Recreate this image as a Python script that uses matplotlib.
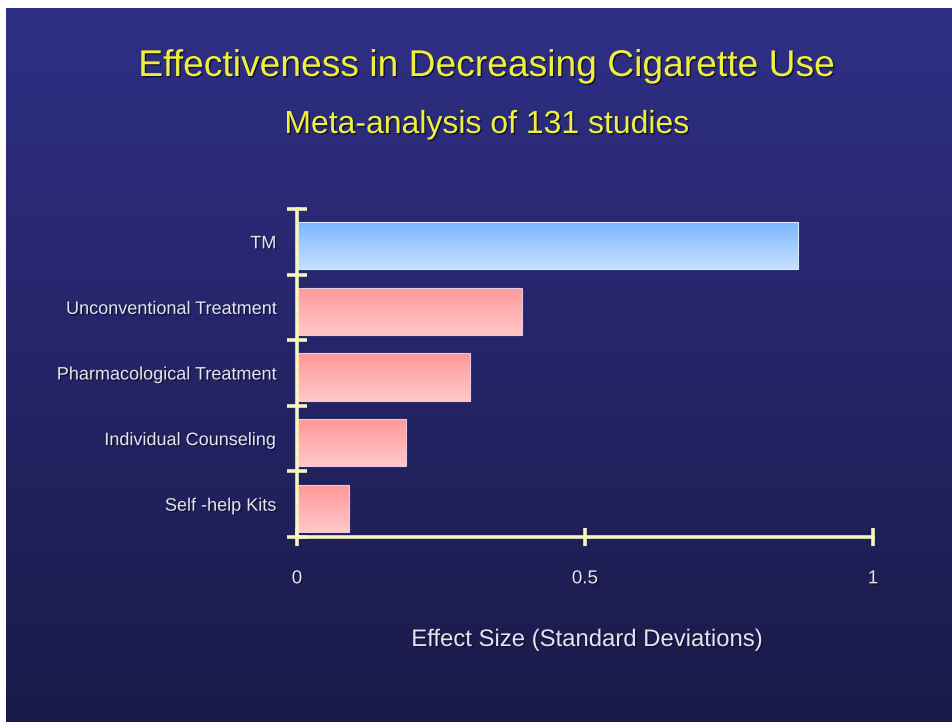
import matplotlib
matplotlib.use("Agg")
import matplotlib.pyplot as plt
import matplotlib.patheffects as pe
import numpy as np
from matplotlib.colors import LinearSegmentedColormap

plt.rcParams['font.family'] = ['Liberation Sans', 'DejaVu Sans']

# ---- data ----
categories = ["Self -help Kits", "Individual Counseling", "Pharmacological Treatment",
              "Unconventional Treatment", "TM"]
effect_sizes = [0.09, 0.19, 0.30, 0.39, 0.87]
highlight = [False, False, False, False, True]
x_ticks = [0, 0.5, 1]
x_tick_labels = ["0", "0.5", "1"]
title = "Effectiveness in Decreasing Cigarette Use"
subtitle = "Meta-analysis of 131 studies"
x_label = "Effect Size (Standard Deviations)"

W, H = 953, 722
fig = plt.figure(figsize=(W / 100, H / 100), dpi=100, facecolor="white")

# background gradient (slide)
bg = fig.add_axes([6 / W, 0, 1 - 6 / W, 1 - 8 / H], zorder=0)
bg_cmap = LinearSegmentedColormap.from_list("bg", ["#2F2F86", "#1A1A49"])
bg.imshow(np.linspace(0, 1, 256).reshape(-1, 1), aspect="auto", cmap=bg_cmap,
          extent=[0, 1, 0, 1], origin="upper")
bg.set_axis_off()

axis_col = "#F6F6BE"
label_col = "#E4E4EE"
title_col = "#EFEF3C"
shadow = [pe.withSimplePatchShadow(offset=(1, -1), shadow_rgbFace="#101030", alpha=0.9)]

ax = fig.add_axes([297 / W, (H - 537) / H, 576 / W, 328 / H], zorder=1)
ax.patch.set_alpha(0)

ypos = np.arange(len(categories)) - 0.06
bars = ax.barh(ypos, effect_sizes, height=0.72, facecolor="none", edgecolor="none")

red_cmap = LinearSegmentedColormap.from_list("red", ["#FF9797", "#FFC8C8"])
blue_cmap = LinearSegmentedColormap.from_list("blue", ["#7CB6FF", "#C4E0FF"])
grad = np.linspace(0, 1, 100).reshape(-1, 1)
for b, hl in zip(bars, highlight):
    x0, y0 = b.get_x(), b.get_y()
    w, h = b.get_width(), b.get_height()
    im = ax.imshow(grad, aspect="auto", cmap=blue_cmap if hl else red_cmap,
                   extent=[x0, x0 + w, y0, y0 + h], origin="upper", zorder=2)
    im.set_clip_path(b)
    ax.add_patch(plt.Rectangle((x0, y0), w, h, fill=False,
                               edgecolor="#E8C8E8" if not hl else "#D8E8FF",
                               linewidth=0.8, zorder=3))

ax.set_xlim(0, 1)
ax.set_ylim(-0.5, len(categories) - 0.5)

for s in ["top", "right"]:
    ax.spines[s].set_visible(False)
for s in ["left", "bottom"]:
    ax.spines[s].set_color(axis_col)
    ax.spines[s].set_linewidth(2.6)
    ax.spines[s].set_zorder(4)

ax.set_xticks(x_ticks)
ax.set_xticklabels(x_tick_labels)
ax.set_yticks(np.arange(len(categories) + 1) - 0.5, minor=False)
ax.set_yticklabels([])
ax.set_yticks(np.arange(len(categories)), minor=True)
ax.set_yticklabels(categories, minor=True)

ax.tick_params(axis="y", which="major", direction="inout", length=14, width=2.6,
               color=axis_col)
ax.tick_params(axis="y", which="minor", length=0, pad=15, labelsize=13,
               labelcolor=label_col)
ax.tick_params(axis="x", direction="inout", length=13, width=2.6, color=axis_col,
               pad=17.5, labelsize=13.5, labelcolor=label_col)
for t in ax.get_yticklabels(minor=True) + ax.get_xticklabels():
    t.set_path_effects(shadow)

fig.text(487 / W, (H - 76) / H, title, ha="center", va="baseline",
         fontsize=26.8, color=title_col, path_effects=shadow)
fig.text(487 / W, (H - 133) / H, subtitle, ha="center", va="baseline",
         fontsize=23, color=title_col, path_effects=shadow)
fig.text(587 / W, (H - 646) / H, x_label, ha="center", va="baseline",
         fontsize=17.2, color=label_col, path_effects=shadow)

fig.savefig("out.png", dpi=100, facecolor="white")
